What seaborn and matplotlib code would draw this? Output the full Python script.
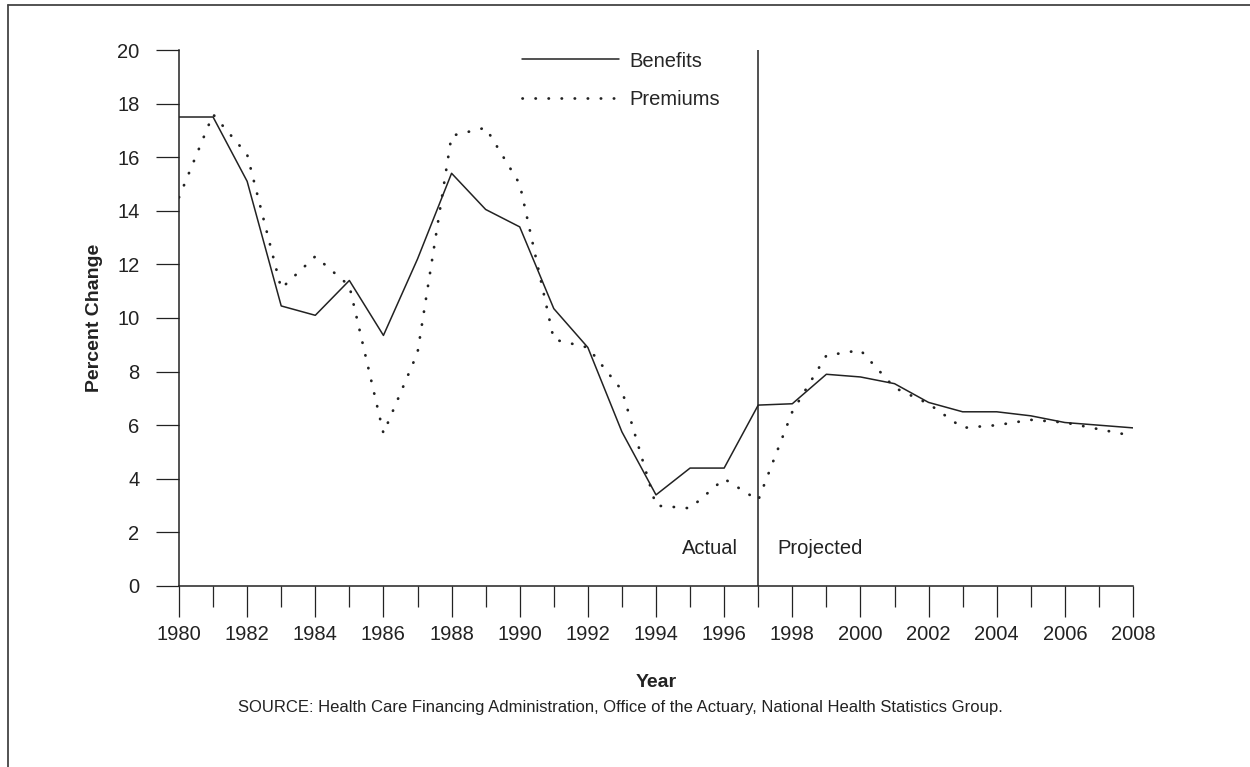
import matplotlib
matplotlib.use("Agg")
import matplotlib.pyplot as plt
import seaborn as sns
import numpy as np
import pandas as pd
from matplotlib.lines import Line2D

# data
years = list(range(1980, 2009))
benefits = [17.5, 17.5, 15.1, 10.45, 10.1, 11.4, 9.35, 12.2, 15.4, 14.05,
            13.4, 10.35, 8.9, 5.75, 3.4, 4.4, 4.4, 6.75, 6.8, 7.9,
            7.8, 7.55, 6.85, 6.5, 6.5, 6.35, 6.1, 6.0, 5.9]
premiums = [14.5, 17.6, 16.1, 11.1, 12.3, 11.2, 5.7, 8.7, 16.8, 17.1,
            15.0, 9.2, 8.9, 7.3, 3.0, 2.9, 4.0, 3.2, 6.5, 8.6,
            8.8, 7.4, 6.8, 5.9, 6.0, 6.2, 6.1, 5.85, 5.6]
split_year = 1997
y_ticks = list(range(0, 21, 2))
x_labels = list(range(1980, 2009, 2))
source = "SOURCE: Health Care Financing Administration, Office of the Actuary, National Health Statistics Group."

sns.set_style("ticks")
plt.rcParams['font.family'] = ['Liberation Sans', 'DejaVu Sans']
ink = "#222222"
dotted = (0, (0.1, 4.6))

df = pd.DataFrame({"Year": years, "Benefits": benefits, "Premiums": premiums})

fig = plt.figure(figsize=(12.5, 7.67), dpi=100)
ax = fig.add_axes([0.1432, 0.2360, 0.9064 - 0.1432, 0.9348 - 0.2360])

sns.lineplot(data=df, x="Year", y="Benefits", ax=ax, color=ink, linewidth=1.1)
sns.lineplot(data=df, x="Year", y="Premiums", ax=ax, color=ink, linewidth=2.0,
             linestyle=dotted, dash_capstyle="round")

ax.axvline(split_year, ymin=0, ymax=1, color=ink, linewidth=1.1)
ax.text(split_year - 0.6, 1.4, "Actual", ha="right", va="center", fontsize=14.5, color=ink)
ax.text(split_year + 0.55, 1.4, "Projected", ha="left", va="center", fontsize=14.5, color=ink)

ax.set_xlim(1980, 2008)
ax.set_ylim(0, 20)
ax.set_yticks(y_ticks)
ax.set_xticks(x_labels)
ax.set_xticks(years, minor=True)
ax.tick_params(axis="y", direction="out", length=16.5, width=0.9, pad=12,
               labelsize=14.5, colors=ink)
ax.tick_params(axis="x", which="major", direction="out", length=22, width=0.9,
               pad=6, labelsize=14.5, colors=ink)
ax.tick_params(axis="x", which="minor", direction="out", length=15, width=0.9)

sns.despine(ax=ax)
for s in ["left", "bottom"]:
    ax.spines[s].set_color(ink)
    ax.spines[s].set_linewidth(1.1)

ax.set_xlabel("Year", fontsize=14, fontweight="bold", labelpad=22, color=ink)
ax.set_ylabel("Percent Change", fontsize=14, fontweight="bold", labelpad=10, color=ink)

handles = [Line2D([], [], color=ink, linewidth=1.1),
           Line2D([], [], color=ink, linewidth=2.0, linestyle=dotted,
                  dash_capstyle="round")]
ax.legend(handles, ["Benefits", "Premiums"], loc="upper left",
          bbox_to_anchor=(0.341, 1.031), frameon=False, fontsize=14.5,
          handlelength=4.8, handletextpad=0.5, labelspacing=0.95)

fig.text(0.496, 0.078, source, ha="center", va="center", fontsize=12, color=ink)

# frame around the figure (top and left edges visible)
fig.add_artist(Line2D([0.006, 0.006], [0, 0.993], transform=fig.transFigure,
                      color="#444444", linewidth=1.3))
fig.add_artist(Line2D([0.006, 1.0], [0.993, 0.993], transform=fig.transFigure,
                      color="#444444", linewidth=1.3))

fig.savefig("out.png", dpi=100)
